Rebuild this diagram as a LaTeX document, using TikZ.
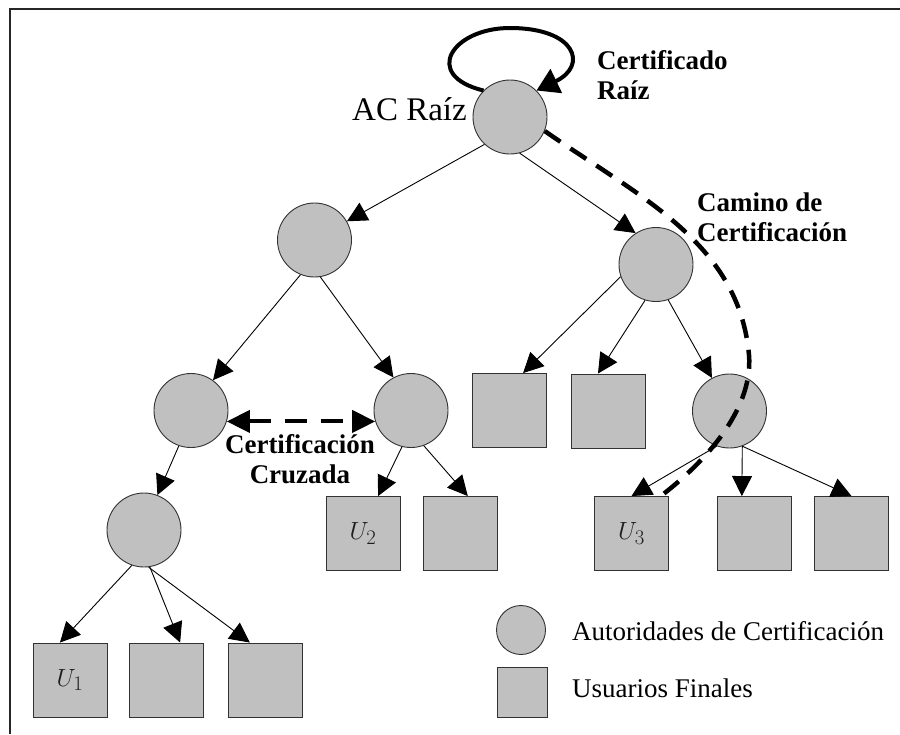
\documentclass[tikz,border=0pt]{standalone}
\usepackage{fontspec}
\setmainfont{Liberation Serif}
\usetikzlibrary{arrows.meta}
\definecolor{nodeGray}{RGB}{192,192,192}
\definecolor{rimGray}{RGB}{50,50,50}
\begin{document}
\begin{tikzpicture}[x=1pt,y=-1pt,
  ca/.style={circle,draw=rimGray,line width=0.9pt,fill=nodeGray,minimum size=74pt,inner sep=0pt},
  eu/.style={rectangle,draw=rimGray,line width=0.9pt,fill=nodeGray,minimum size=74pt,inner sep=0pt,
             text=black!88,font=\fontsize{28}{28}\selectfont},
  link/.style={line width=0.9pt,-{Triangle[length=20pt,width=20pt]}},
  loopline/.style={line width=4pt,-{Triangle[length=22pt,width=26pt]}},
  pathline/.style={line width=4.5pt,dash pattern=on 19pt off 12pt},
  crossline/.style={line width=4pt,dash pattern=on 22pt off 14pt,
             {Triangle[length=23pt,width=22pt]}-{Triangle[length=23pt,width=22pt]}},
  boldlbl/.style={inner sep=0pt,align=left,font=\bfseries\fontsize{27}{30}\selectfont},
  legendlbl/.style={inner sep=0pt,anchor=base west,font=\fontsize{27}{30}\selectfont}
]
\useasboundingbox (0,0) rectangle (900,734);

% frame
\draw[line width=2pt,black!85] (10,734) -- (10,9) -- (900,9);

% certification authorities
\node[ca] (root) at (510,117) {};
\node[ca] (ca1) at (314.5,240) {};
\node[ca] (ca2) at (656,264.5) {};
\node[ca] (ca3) at (191,410.5) {};
\node[ca] (ca4) at (411,410.5) {};
\node[ca] (ca5) at (729.5,411) {};
\node[ca] (ca6) at (144,530) {};

% end users
\node[eu] (e1) at (509.5,410.5) {};
\node[eu] (e2) at (608,411) {};
\node[eu] (u2) at (363,533.5) {$U_2$};
\node[eu] (e6) at (460.5,533.5) {};
\node[eu] (u3) at (631.5,533.5) {$U_3$};
\node[eu] (e4) at (754,533.5) {};
\node[eu] (e5) at (851.5,533.5) {};
\node[eu] (u1) at (70,680) {$U_1$};
\node[eu] (e7) at (166.5,680) {};
\node[eu] (e8) at (265,680) {};

% hierarchy
\draw[link] (root.-133) -- (ca1.30);
\draw[link] (root.-75) -- (ca2.123);
\draw[link] (ca1.-112) -- (ca3.54);
\draw[link] (ca1.-81) -- (ca4.118);
\draw[link] (ca2.-161) -- (e1.70);
\draw[link] (ca2.-107) -- (e2.105);
\draw[link] (ca2.-71) -- (ca5.118);
\draw[link] (ca3.-109) -- (ca6.69);
\draw[link] (ca4.-104) -- (u2.68);
\draw[link] (ca4.-70) -- (e6.79);
\draw[link] (ca5.-110) -- (u3.north);
\draw[link] (ca5.-70) -- (e4.108);
\draw[link] (ca5.-70) -- (e5.north);
\draw[link] (ca6.-109) -- (u1.105);
\draw[link] (ca6.-81) -- (e7.70);
\draw[link] (ca6.-83) -- (e8.112);

% self-signed root certificate
\coordinate (looptop) at (510,28);
\draw[loopline] (root.135) .. controls +(-62,-15) and +(-58,0) .. (looptop)
                .. controls +(66,0) and +(52,-25) .. (root.45);

% certification path from the root down to U3
\coordinate (pathbend) at (749,355);
\draw[pathline] (root.-22) .. controls +(95,66) and +(-10,-112) .. (pathbend)
                .. controls +(4,50) and +(52,-40) .. (u3.52);

% cross certification
\draw[crossline] (ca3.-17) -- (ca4.-163);

% labels
\node[inner sep=0pt,anchor=base west,font=\fontsize{33}{36}\selectfont] (rootlbl) at (352,120) {AC Raíz};
\node[boldlbl,anchor=base west] (certlbl) at (597,99) {Certificado\\Raíz};
\node[boldlbl,anchor=base west] (pathlbl) at (697,241) {Camino de\\Certificación};
\node[boldlbl,align=center,anchor=base] (crosslbl) at (300,483) {Certificación\\Cruzada};

% legend
\node[ca,minimum size=49pt] (legca) at (521,630) {};
\node[eu,minimum size=50pt] (legeu) at (522,692) {};
\node[legendlbl] (legcatext) at (572,640) {Autoridades de Certificación};
\node[legendlbl] (legeutext) at (572,697) {Usuarios Finales};
\end{tikzpicture}
\end{document}
